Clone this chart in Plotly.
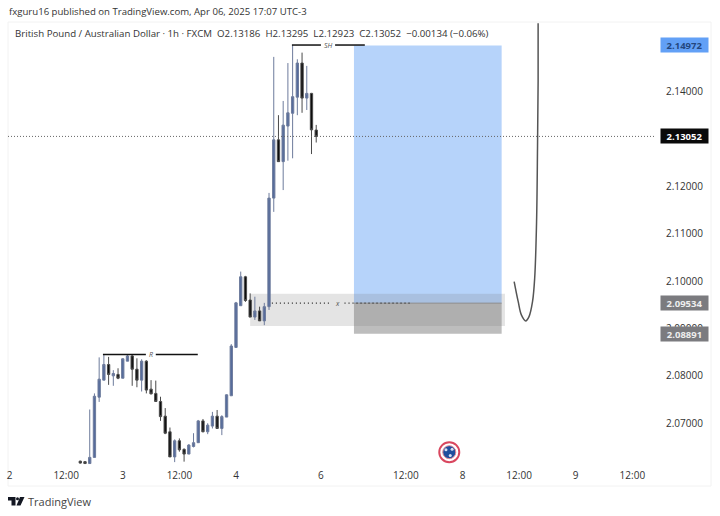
import plotly.graph_objects as go

# hourly bars, x is the bar number counted from the "2" tick (weekend gap removed)
bar_no = list(range(15, 66))
opens = [2.0620, 2.0619, 2.0615, 2.0628, 2.0755, 2.0791, 2.0824, 2.0800, 2.0803, 2.0795,
         2.0831, 2.0842, 2.0814, 2.0791, 2.0831, 2.0772, 2.0763, 2.0746, 2.0715, 2.0682,
         2.0629, 2.0663, 2.0645, 2.0635, 2.0651, 2.0659, 2.0705, 2.0682, 2.0694, 2.0715,
         2.0689, 2.0713, 2.0758, 2.0860, 2.0948, 2.1009, 2.0960, 2.0924, 2.0937, 2.0916,
         2.0946, 2.1175, 2.1298, 2.1252, 2.1327, 2.1354, 2.1388, 2.1460, 2.1386, 2.1396,
         2.13186]
highs = [2.0621, 2.0620, 2.0729, 2.0763, 2.0839, 2.0844, 2.0840, 2.0812, 2.0816, 2.0837,
         2.0844, 2.0844, 2.0837, 2.0835, 2.0833, 2.0791, 2.0790, 2.0756, 2.0732, 2.0691,
         2.0666, 2.0668, 2.0647, 2.0656, 2.0679, 2.0707, 2.0709, 2.0700, 2.0724, 2.0728,
         2.0717, 2.0761, 2.0867, 2.0956, 2.1020, 2.1011, 2.0974, 2.0967, 2.0946, 2.0954,
         2.1186, 2.1473, 2.1350, 2.1380, 2.1460, 2.1498, 2.1468, 2.1482, 2.1454, 2.1397,
         2.13295]
lows = [2.0615, 2.0614, 2.0614, 2.0628, 2.0745, 2.0791, 2.0781, 2.0779, 2.0793, 2.0795,
        2.0831, 2.0779, 2.0776, 2.0767, 2.0763, 2.0761, 2.0745, 2.0705, 2.0677, 2.0629,
        2.0618, 2.0640, 2.0619, 2.0635, 2.0649, 2.0659, 2.0681, 2.0677, 2.0689, 2.0689,
        2.0675, 2.0713, 2.0758, 2.0860, 2.0948, 2.0956, 2.0924, 2.0918, 2.0916, 2.0907,
        2.0939, 2.1146, 2.1252, 2.1192, 2.1254, 2.1259, 2.1350, 2.1355, 2.1361, 2.1268,
        2.12923]
closes = [2.0616, 2.0615, 2.0628, 2.0757, 2.0793, 2.0824, 2.0803, 2.0805, 2.0795, 2.0836,
          2.0842, 2.0814, 2.0791, 2.0831, 2.0770, 2.0762, 2.0746, 2.0714, 2.0679, 2.0629,
          2.0663, 2.0644, 2.0635, 2.0654, 2.0659, 2.0705, 2.0682, 2.0696, 2.0715, 2.0689,
          2.0714, 2.0760, 2.0863, 2.0954, 2.1009, 2.0959, 2.0924, 2.0937, 2.0916, 2.0946,
          2.1175, 2.1298, 2.1252, 2.1329, 2.1355, 2.1389, 2.1460, 2.1386, 2.1396, 2.1319,
          2.13052]

# hand drawn projection curve
curve_x = [106.95, 107.8, 108.5, 109.4, 110.1, 110.85, 111.3, 111.7, 111.9, 112.03, 112.03]
curve_y = [2.0999, 2.0957, 2.0928, 2.0916, 2.0925, 2.0957, 2.1006, 2.1125, 2.1280, 2.1421, 2.1544]

tick_bars = [0, 12, 24, 36, 48, 66, 84, 96, 108, 120, 132]
tick_names = ["2", "12:00", "3", "12:00", "4", "6", "12:00", "8", "12:00", "9", "12:00"]
# 2.13000 sits behind the last price tag in the original, so it is left out
price_ticks = [2.07, 2.08, 2.09, 2.10, 2.11, 2.12, 2.14]

last_price = 2.13052
target = 2.14972
entry = 2.09534
stop = 2.08891
zone_top = 2.0973
zone_bottom = 2.0905
r_level = 2.0845
sh_level = 2.1498
flag_x = 93.2
flag_y = 2.0639

L, R, T, B = 8, 655, 22, 468
BLUE = "#566c9c"
DARK = "#0d0d0d"
FONT = "Open Sans"


def px(x):
    return (x - L) / (R - L)


def py(y):
    return (B - y) / (B - T)


fig = go.Figure()

fig.add_trace(go.Candlestick(
    x=bar_no, open=opens, high=highs, low=lows, close=closes,
    increasing=dict(line=dict(color="#6d7b9c", width=1), fillcolor=BLUE),
    decreasing=dict(line=dict(color="#4a4a4a", width=1), fillcolor=DARK),
    whiskerwidth=0, showlegend=False, hoverinfo="skip",
))

# structure lines
fig.add_trace(go.Scatter(x=[19.8, 28.9, None, 31, 39.9], y=[r_level] * 2 + [None] + [r_level] * 2,
                         mode="lines", line=dict(color="#111111", width=1.5)))
fig.add_trace(go.Scatter(x=[59.85, 66, None, 69, 75.3], y=[sh_level] * 2 + [None] + [sh_level] * 2,
                         mode="lines", line=dict(color="#111111", width=1.5)))
fig.add_trace(go.Scatter(x=[55.6, 68, None, 71, 85.3], y=[entry] * 2 + [None] + [entry] * 2,
                         mode="lines", line=dict(color="#222222", width=1.3, dash="1px 3px")))
fig.add_trace(go.Scatter(x=[-0.32, 136.8], y=[last_price] * 2, mode="lines",
                         line=dict(color="#666666", width=1, dash="1px 2px")))
fig.add_trace(go.Scatter(x=curve_x, y=curve_y, mode="lines",
                         line=dict(color="#555555", width=1.5, shape="spline")))

# flag badge
fig.add_trace(go.Scatter(x=[flag_x], y=[flag_y], mode="markers",
                         marker=dict(size=20, color="white", line=dict(color="#d9475f", width=2))))
fig.add_trace(go.Scatter(x=[flag_x], y=[flag_y], mode="markers",
                         marker=dict(size=13, color="#1f4f9e", line=dict(color="#e08a98", width=1))))
fig.add_trace(go.Scatter(x=[flag_x - 0.7, flag_x + 0.6, flag_x + 0.2], y=[flag_y + 0.0005, flag_y + 0.0006, flag_y - 0.0007],
                         mode="markers", marker=dict(size=3, color="#d5e0f2")))

shapes = [
    dict(type="rect", layer="below", x0=73, x1=104.3, y0=entry, y1=target,
         fillcolor="#b6d3fa", line_width=0),
    dict(type="rect", layer="below", x0=73, x1=104.3, y0=stop, y1=entry,
         fillcolor="#bdbdbd", line_width=0),
    dict(type="rect", layer="below", x0=51, x1=105, y0=zone_bottom, y1=zone_top,
         fillcolor="rgba(120,120,120,0.2)", line_width=0),
    dict(type="line", layer="below", x0=73, x1=104.3, y0=entry, y1=entry,
         line=dict(color="#8a8a8a", width=1)),
    # outer frame
    dict(type="rect", layer="below", xref="paper", yref="paper", x0=0, x1=px(711), y0=py(486), y1=py(22),
         line=dict(color="#f2f2f2", width=1)),
    # TradingView logo
    dict(type="path", xref="paper", yref="paper", fillcolor="#131722", line_width=0,
         path=f"M {px(8)} {py(497)} L {px(15.5)} {py(497)} L {px(15.5)} {py(505.5)} L {px(11.5)} {py(505.5)} "
              f"L {px(11.5)} {py(500.5)} L {px(8)} {py(500.5)} Z"),
    dict(type="circle", xref="paper", yref="paper", fillcolor="#131722", line_width=0,
         x0=px(16), x1=px(19), y0=py(500.2), y1=py(497.2)),
    dict(type="path", xref="paper", yref="paper", fillcolor="#131722", line_width=0,
         path=f"M {px(20)} {py(497)} L {px(24.5)} {py(497)} L {px(20.5)} {py(505.5)} L {px(16.5)} {py(505.5)} Z"),
]


def label(x, y, text, size=9.6, color="#333333", **kw):
    return dict(xref="paper", yref="paper", x=px(x), y=py(y), text=text, showarrow=False,
                xanchor="left", yanchor="middle", font=dict(family=FONT, size=size, color=color), **kw)


def price_tag(value, bg, color):
    return dict(xref="paper", yref="y", x=px(684), y=value, text=f"<b>{value:.5f}</b>", showarrow=False,
                xanchor="center", yanchor="middle", width=47, height=14, bgcolor=bg, borderpad=0,
                font=dict(family=FONT, size=9.5, color=color))


def mark(x, y, text):
    return dict(x=x, y=y, text=f"<i>{text}</i>", showarrow=False, xanchor="center", yanchor="middle",
                font=dict(family=FONT, size=7, color="#555555"))


annotations = [
    label(7, 12, "fxguru16 published on TradingView.com, Apr 06, 2025 17:07 UTC-3"),
    label(13, 34, "British Pound / Australian Dollar · 1h · FXCM  O2.13186  H2.13295  L2.12923  "
                  "C2.13052  −0.00134 (−0.06%)", size=9.7),
    label(26, 501, "TradingView", size=11, color="#444444"),
    mark(30, r_level, "R"),
    mark(67.5, sh_level, "SH"),
    mark(69.5, entry, "x"),
    price_tag(target, "#62a0f6", "#24477e"),
    price_tag(last_price, "#0a0a0a", "white"),
    price_tag(entry, "#7b7b7f", "#eeeeee"),
    price_tag(stop, "#7b7b7f", "#eeeeee"),
]

fig.update_layout(
    width=720, height=516, autosize=False,
    margin=dict(l=L, r=720 - R, t=T, b=516 - B),
    paper_bgcolor="white", plot_bgcolor="white",
    showlegend=False, shapes=shapes, annotations=annotations,
    font=dict(family=FONT, size=10, color="#333333"),
    xaxis=dict(range=[-0.32, 136.8], rangeslider_visible=False, showgrid=False, zeroline=False,
               tickmode="array", tickvals=tick_bars, ticktext=tick_names, ticks="", showline=False),
    yaxis=dict(range=[2.06056, 2.15466], side="right", showgrid=False, zeroline=False, showline=False,
               tickmode="array", tickvals=price_ticks, tickformat=".5f", ticks="outside",
               ticklen=8, tickcolor="rgba(0,0,0,0)"),
)

# page margin off so the figure sits at the window corner
fig.write_html("out.html", config={"displayModeBar": False},
               post_script="document.body.style.margin='0';")
